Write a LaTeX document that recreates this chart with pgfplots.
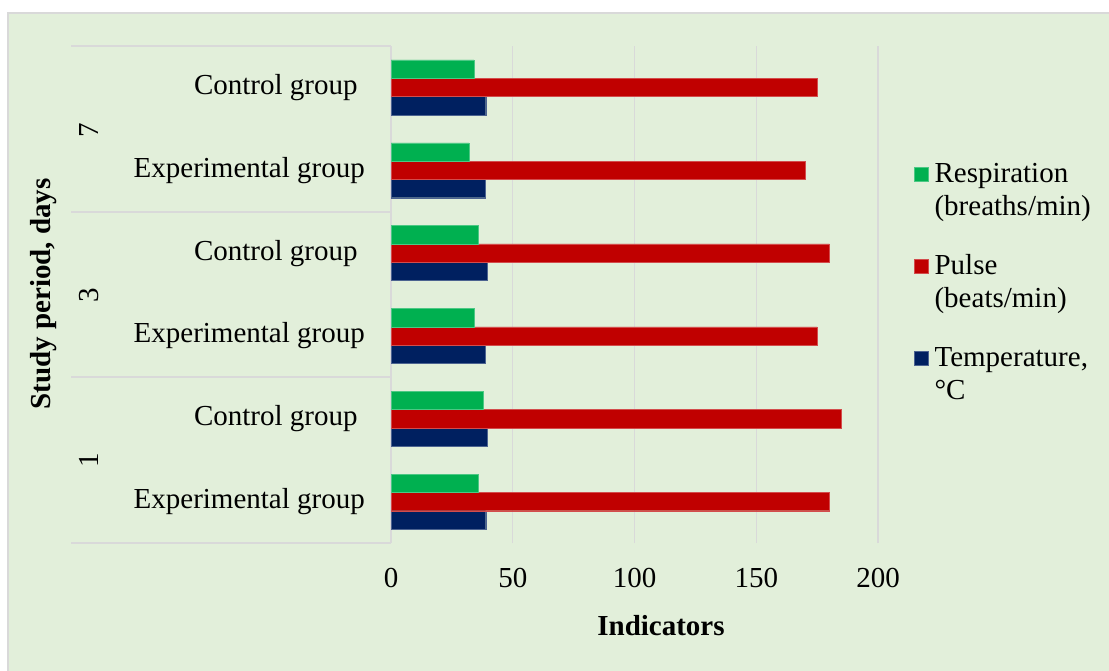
\documentclass[border=0pt]{standalone}
\usepackage{fontspec}
\setmainfont{Liberation Serif}
\usepackage{pgfplots}
\pgfplotsset{compat=1.18}
\definecolor{bg}{HTML}{E2EFDA}
\definecolor{gridc}{HTML}{D9D9D9}
\definecolor{cgreen}{HTML}{00B050}
\definecolor{cred}{HTML}{C00000}
\definecolor{cnavy}{HTML}{002060}
\newcommand{\F}{\fontsize{29}{33}\selectfont}
\newcommand{\TL}[1]{\begin{tabular}[t]{@{}l@{}}#1\end{tabular}}
\begin{document}
\begin{tikzpicture}
\path[use as bounding box] (0,0) rectangle (1109pt,-671pt);
\fill[bg] (8pt,-13pt) rectangle (1109pt,-671pt);
\draw[gridc, line width=1.3pt] (8pt,-671pt) -- (8pt,-13pt) -- (1109pt,-13pt);
\begin{axis}[
  at={(391pt,-543pt)}, anchor=south west,
  width=487pt, height=497pt, scale only axis,
  xmin=0, xmax=200, ymin=-0.5, ymax=5.5,
  xbar=0pt, bar width=18.3pt,
  axis line style={draw=none},
  major tick length=0pt,
  xtick={0,50,100,150,200},
  xmajorgrids, grid style={gridc, line width=1.3pt},
  ytick={0,1,2,3,4,5},
  yticklabels={Experimental group, Control group\hspace*{0.25em}, Experimental group, Control group\hspace*{0.25em}, Experimental group, Control group\hspace*{0.25em}},
  tick label style={font=\F},
  xticklabel style={anchor=center, inner sep=0pt, yshift=-35pt},
  yticklabel style={anchor=east, inner sep=0pt, xshift=-26pt},
  /pgf/number format/assume math mode=true,
  reverse legend,
  legend cell align=left,
  legend style={at={(1.0739,0.7726)}, anchor=north west, draw=none, fill=none, inner sep=0pt, column sep=6pt, row sep=67.5pt, font=\F, nodes={inner sep=0pt}},
  legend image code/.code={\fill[#1] (0pt,-9.5pt) rectangle (14pt,4.5pt);},
  clip=false,
]
\addplot[fill=cnavy, draw=cnavy!70!white, line width=0.4pt] coordinates {(38.9,0) (39.4,1) (38.6,2) (39.4,3) (38.6,4) (38.9,5)};
\addlegendentry{\TL{Temperature,\\°C}}
\addplot[fill=cred, draw=cred!70!white, line width=0.4pt] coordinates {(180,0) (185,1) (175,2) (180,3) (170,4) (175,5)};
\addlegendentry{\TL{Pulse\\(beats/min)}}
\addplot[fill=cgreen, draw=cgreen!70!white, line width=0.4pt] coordinates {(36,0) (38,1) (34,2) (36,3) (32,4) (34,5)};
\addlegendentry{\TL{Respiration\\(breaths/min)}}
\end{axis}
\foreach \y in {46,212,377,543} {\draw[gridc, line width=1.3pt] (71pt,-\y pt) -- (391pt,-\y pt);}
\node[rotate=90, font=\F] at (89pt,-130pt) {7};
\node[rotate=90, font=\F] at (89pt,-295pt) {3};
\node[rotate=90, font=\F] at (89pt,-460pt) {1};
\node[rotate=90, font=\F\bfseries] at (44pt,-294pt) {Study period, days};
\node[font=\F\bfseries] at (661pt,-626pt) {Indicators};
\end{tikzpicture}
\end{document}
